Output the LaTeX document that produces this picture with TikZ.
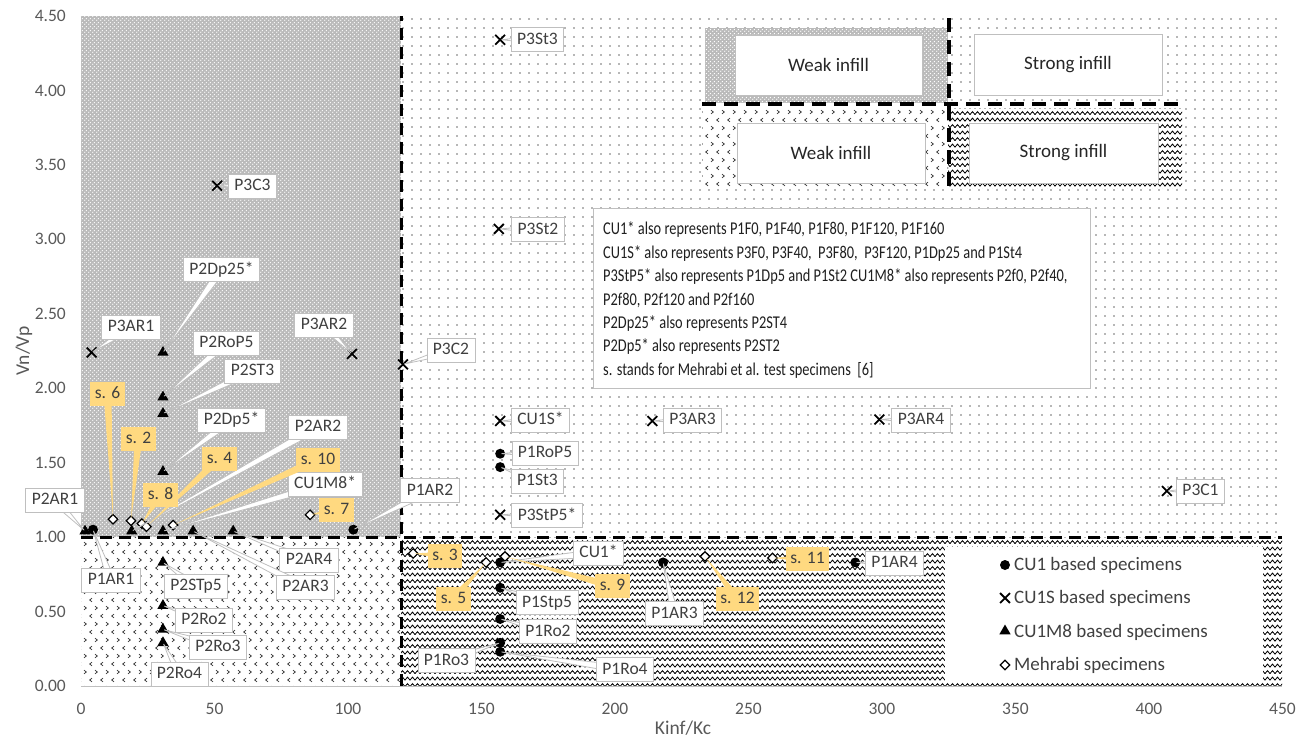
\documentclass[tikz,border=0pt]{standalone}
\usepackage{fontspec}
\setmainfont{Carlito}
\newfontfamily\notefont[FakeStretch=0.8]{Carlito}
\usetikzlibrary{calc,patterns,shapes.geometric,shapes.misc}

\definecolor{axisgray}{RGB}{89,89,89}
\definecolor{textgray}{RGB}{64,64,64}
\definecolor{boxgray}{RGB}{191,191,191}
\definecolor{calloutyellow}{RGB}{255,217,128}
\definecolor{hatchgray}{RGB}{186,186,186}
\definecolor{dotgray}{RGB}{110,110,110}

% fill patterns of the four zones
\pgfdeclarepatternformonly{sparsedots}{\pgfqpoint{0pt}{0pt}}{\pgfqpoint{8.5pt}{8.5pt}}{\pgfqpoint{8.5pt}{8.5pt}}{%
  \pgfpathcircle{\pgfqpoint{4.25pt}{4.25pt}}{0.85pt}\pgfusepath{fill}}
\pgfdeclarepatternformonly{finedots}{\pgfqpoint{0pt}{0pt}}{\pgfqpoint{4pt}{4pt}}{\pgfqpoint{4pt}{4pt}}{%
  \pgfpathcircle{\pgfqpoint{1pt}{1pt}}{0.85pt}\pgfusepath{fill}%
  \pgfpathcircle{\pgfqpoint{3pt}{3pt}}{0.85pt}\pgfusepath{fill}}
\pgfdeclarepatternformonly{chevrons}{\pgfqpoint{-1pt}{-1pt}}{\pgfqpoint{12pt}{17pt}}{\pgfqpoint{11pt}{16pt}}{%
  \pgfsetlinewidth{0.7pt}%
  \pgfpathmoveto{\pgfqpoint{4pt}{13.8pt}}\pgfpathlineto{\pgfqpoint{1.6pt}{12pt}}\pgfpathlineto{\pgfqpoint{4pt}{10.2pt}}%
  \pgfpathmoveto{\pgfqpoint{7pt}{5.8pt}}\pgfpathlineto{\pgfqpoint{9.4pt}{4pt}}\pgfpathlineto{\pgfqpoint{7pt}{2.2pt}}%
  \pgfusepath{stroke}}
\pgfdeclarepatternformonly{waves}{\pgfqpoint{-0.5pt}{0pt}}{\pgfqpoint{5.5pt}{6.5pt}}{\pgfqpoint{5pt}{6.5pt}}{%
  \pgfsetlinewidth{0.8pt}\pgfsetroundcap%
  \pgfpathmoveto{\pgfqpoint{0pt}{1.4pt}}\pgfpathlineto{\pgfqpoint{2.5pt}{4.4pt}}\pgfpathlineto{\pgfqpoint{5pt}{1.4pt}}%
  \pgfusepath{stroke}}

\tikzset{
  lbl/.style={draw=boxgray, line width=0.8pt, fill=white, text=textgray,
    font=\fontsize{17.5}{20}\selectfont, inner xsep=6pt, inner ysep=0pt,
    text height=12.5pt, text depth=3.5pt, minimum height=24pt},
  ylbl/.style={lbl, draw=none, fill=calloutyellow, inner xsep=4.5pt},
  taillbl/.style={fill=white, draw=boxgray, line width=0.8pt, line join=round},
  tailylbl/.style={fill=calloutyellow},
  mcirc/.style={circle, fill=black, inner sep=0pt, minimum size=10pt},
  mcross/.style={cross out, draw=black, line width=1.8pt, inner sep=0pt, minimum size=8pt},
  mtri/.style={regular polygon, regular polygon sides=3, fill=black, inner sep=0pt, minimum size=13pt},
  mdiam/.style={diamond, draw=black, fill=white, line width=1.2pt, inner sep=0pt, minimum size=10pt},
  keybox/.style={draw=boxgray, line width=0.8pt, fill=white, text=black!85,
    font=\fontsize{19}{22}\selectfont, inner sep=0pt},
  keydash/.style={black, line width=3.5pt, dash pattern=on 14pt off 8pt},
  limit/.style={black, line width=3pt, dash pattern=on 12pt off 7pt},
  notebox/.style={draw=boxgray, line width=0.8pt, fill=white, inner sep=0pt},
  notetext/.style={text=black!88, align=left, inner sep=0pt,
    font=\notefont\fontsize{18}{23.4}\selectfont},
  keytext/.style={text=textgray, font=\fontsize{19}{22}\selectfont, inner sep=0pt, anchor=west},
  ticktext/.style={text=axisgray, font=\fontsize{17.5}{20}\selectfont, inner sep=0pt},
  titletext/.style={text=axisgray, font=\fontsize{19.5}{22}\selectfont, inner sep=0pt},
}

% callout box #2 at #3 with a tail to the marker node #4
\newcommand\callout[5][lbl]{%
  \coordinate (c#2) at #3;
  \path[tail#1] ($(#4.center)!1.5pt!(c#2)$) -- ($(c#2)!4pt!90:(#4.center)$)
     -- ($(c#2)!4pt!-90:(#4.center)$) -- cycle;
  \node[#1] (#2) at (c#2) {#5};
}

\begin{document}
\begin{tikzpicture}[x=1pt, y=-1pt]
\useasboundingbox (0,0) rectangle (1309,740);

% zones of the chart
\fill[hatchgray] (81,16) rectangle (401,537);
\fill[pattern=finedots, pattern color=white] (81,16) rectangle (401,537);
\fill[pattern=sparsedots, pattern color=dotgray] (401,16) rectangle (1282,537);
\fill[pattern=chevrons, pattern color=black!80] (81,537) rectangle (401,686);
\fill[pattern=waves, pattern color=black] (401,537) rectangle (1282,686);
\draw[boxgray, line width=1pt] (81,686) -- (1282,686);

% key of the infill zones
\fill[hatchgray] (705,28) rectangle (948,103);
\fill[pattern=finedots, pattern color=white] (705,28) rectangle (948,103);
\fill[white] (702,108) rectangle (1182,188);
\fill[pattern=chevrons, pattern color=black!80] (702,108) rectangle (948,188);
\fill[pattern=waves, pattern color=black] (948,108) rectangle (1182,188);
\node[keybox, minimum width=187pt, minimum height=60pt] (kw1) at (828.5,65) {Weak infill};
\node[keybox, minimum width=188pt, minimum height=61pt] (ks1) at (1068,64.5) {Strong infill};
\node[keybox, minimum width=188pt, minimum height=60pt] (kw2) at (831,153) {Weak infill};
\node[keybox, minimum width=189pt, minimum height=60pt] (ks2) at (1063.5,153) {Strong infill};
\draw[keydash] (702,104) -- (1180,104);
\draw[keydash] (949,18) -- (949,187);

% notes
\node[notebox, minimum width=497pt, minimum height=180pt] (notes) at (841.5,298) {};
\node[notetext, anchor=north west] (notetxt) at (603,222) {%
CU1* also represents P1F0, P1F40, P1F80, P1F120, P1F160\\
CU1S* also represents P3F0, P3F40, \ P3F80, \ P3F120, P1Dp25 and P1St4\\
P3StP5* also represents P1Dp5 and P1St2 CU1M8* also represents P2f0, P2f40,\\
P2f80, P2f120 and P2f160\\
P2Dp25* also represents P2ST4\\
P2Dp5* also represents P2ST2\\
s. stands for Mehrabi et al. test specimens \ [6]};

% limits of the zones
\draw[limit] (401,686) -- (401,16);
\draw[limit] (81,537) -- (1282,537);

% legend of the series
\fill[white] (945,547) rectangle (1263,682);
\node[mcirc] (g1) at (1005,565) {};
\node[keytext] (gt1) at (1014,565) {CU1 based specimens};
\node[mcross] (g2) at (1005,598) {};
\node[keytext] (gt2) at (1014,598) {CU1S based specimens};
\node[mtri] (g3) at (1005,631) {};
\node[keytext] (gt3) at (1014,632) {CU1M8 based specimens};
\node[mdiam] (g4) at (1005,665) {};
\node[keytext] (gt4) at (1014,665) {Mehrabi specimens};

% axes
\foreach \v/\t in {0/0.00,0.5/0.50,1/1.00,1.5/1.50,2/2.00,2.5/2.50,3/3.00,3.5/3.50,4/4.00,4.5/4.50}
  \node[ticktext, anchor=east] (yt\t) at (66,{686-148.9*\v}) {\t};
\foreach \v in {0,50,...,450}
  \node[ticktext] (xt\v) at ({81+2.67*\v},709) {\v};
\node[titletext, rotate=90] (ytitle) at (24,351) {Vn/Vp};
\node[titletext] (xtitle) at (683,728) {Kinf/Kc};

% specimens
\begin{scope}[shift={(81,686)}, x=2.67pt, y=148.9pt]
  % CU1S based
  \node[mcross] (mP3St3) at (157,4.34) {};
  \node[mcross] (mP3St2) at (156.5,3.07) {};
  \node[mcross] (mP3C3) at (51,3.36) {};
  \node[mcross] (mP3AR1) at (4,2.24) {};
  \node[mcross] (mP3AR2) at (101.5,2.23) {};
  \node[mcross] (mP3C2) at (120.6,2.16) {};
  \node[mcross] (mCUS) at (157,1.78) {};
  \node[mcross] (mP3AR3) at (214,1.78) {};
  \node[mcross] (mP3AR4) at (299,1.79) {};
  \node[mcross] (mP3StP) at (157,1.15) {};
  \node[mcross] (mP3C1) at (406.7,1.31) {};
  % CU1M8 based
  \node[mtri] (mP2Dp25) at (30.7,2.24) {};
  \node[mtri] (mP2RoP5) at (30.7,1.94) {};
  \node[mtri] (mP2ST3) at (30.7,1.83) {};
  \node[mtri] (mP2Dp5) at (30.7,1.44) {};
  \node[mtri] (mP2AR1) at (1.5,1.04) {};
  \node[mtri] (mP2AR2) at (19,1.04) {};
  \node[mtri] (mCUM) at (30.7,1.04) {};
  \node[mtri] (mP2AR3) at (42,1.04) {};
  \node[mtri] (mP2AR4) at (57,1.04) {};
  \node[mtri] (mP2STp5) at (30.7,0.83) {};
  \node[mtri] (mP2Ro2) at (30.7,0.54) {};
  \node[mtri] (mP2Ro3) at (30.7,0.38) {};
  \node[mtri] (mP2Ro4) at (30.7,0.29) {};
  % CU1 based
  \node[mcirc] (mP1AR1) at (4.5,1.05) {};
  \node[mcirc] (mP1AR2) at (102,1.05) {};
  \node[mcirc] (mCU) at (157,0.83) {};
  \node[mcirc] (mP1RoP5) at (157,1.56) {};
  \node[mcirc] (mP1St3) at (157,1.47) {};
  \node[mcirc] (mP1Stp5) at (157,0.66) {};
  \node[mcirc] (mP1Ro2) at (157,0.45) {};
  \node[mcirc] (mP1Ro3) at (157,0.29) {};
  \node[mcirc] (mP1Ro4) at (157,0.23) {};
  \node[mcirc] (mP1AR3) at (218,0.83) {};
  \node[mcirc] (mP1AR4) at (290,0.83) {};
  % Mehrabi
  \node[mdiam] (ms6) at (12,1.12) {};
  \node[mdiam] (ms2) at (18.7,1.11) {};
  \node[mdiam] (ms8) at (22.8,1.09) {};
  \node[mdiam] (ms4) at (24.5,1.07) {};
  \node[mdiam] (ms10) at (34.5,1.08) {};
  \node[mdiam] (ms7) at (85.8,1.15) {};
  \node[mdiam] (ms3) at (124.4,0.89) {};
  \node[mdiam] (ms5) at (151.7,0.83) {};
  \node[mdiam] (ms9) at (158.8,0.87) {};
  \node[mdiam] (ms12) at (233.7,0.87) {};
  \node[mdiam] (ms11) at (259,0.86) {};
\end{scope}

% data labels
\callout{lP3St3}{(537.5,39.5)}{mP3St3}{P3St3}
\callout{lP3St2}{(538,229.5)}{mP3St2}{P3St2}
\callout{lP3C3}{(252.5,186)}{mP3C3}{P3C3}
\callout{lP3AR1}{(131,327)}{mP3AR1}{P3AR1}
\callout{lP3AR2}{(324,325)}{mP3AR2}{P3AR2}
\callout{lP3C2}{(451,350)}{mP3C2}{P3C2}
\callout{lCUS}{(540.5,420)}{mCUS}{CU1S*}
\callout{lP3AR3}{(692.5,420)}{mP3AR3}{P3AR3}
\callout{lP3AR4}{(921,420)}{mP3AR4}{P3AR4}
\callout{lP3StP}{(547,515.5)}{mP3StP}{P3StP5*}
\callout{lP3C1}{(1200.5,491)}{mP3C1}{P3C1}
\callout{lP2Dp25}{(221.5,269.5)}{mP2Dp25}{P2Dp25*}
\callout{lP2RoP5}{(226.5,343)}{mP2RoP5}{P2RoP5}
\callout{lP2ST3}{(252.5,371)}{mP2ST3}{P2ST3}
\callout{lP2Dp5}{(231.5,420)}{mP2Dp5}{P2Dp5*}
\callout{lP2AR2}{(318,427)}{mP2AR2}{P2AR2}
\callout{lCUM}{(325,484)}{mCUM}{CU1M8*}
\callout{lP2AR1}{(55,500)}{mP2AR1}{P2AR1}
\callout{lP2AR4}{(309,560)}{mP2AR4}{P2AR4}
\callout{lP2AR3}{(305.5,587)}{mP2AR3}{P2AR3}
\callout{lP2STp5}{(196,586)}{mP2STp5}{P2STp5}
\callout{lP2Ro2}{(204,620)}{mP2Ro2}{P2Ro2}
\callout{lP2Ro3}{(218,647)}{mP2Ro3}{P2Ro3}
\callout{lP2Ro4}{(179.5,674)}{mP2Ro4}{P2Ro4}
\callout{lP1AR1}{(111,580)}{mP1AR1}{P1AR1}
\callout{lP1AR2}{(430,490.5)}{mP1AR2}{P1AR2}
\callout{lP1RoP5}{(545,453)}{mP1RoP5}{P1RoP5}
\callout{lP1St3}{(537.5,481)}{mP1St3}{P1St3}
\callout{lCU}{(598.5,553)}{mCU}{CU1*}
\callout{lP1Stp5}{(547,602.5)}{mP1Stp5}{P1Stp5}
\callout{lP1Ro2}{(548,631.5)}{mP1Ro2}{P1Ro2}
\callout{lP1Ro3}{(446.5,660.5)}{mP1Ro3}{P1Ro3}
\callout{lP1Ro4}{(625,669.5)}{mP1Ro4}{P1Ro4}
\callout{lP1AR3}{(674.5,613.5)}{mP1AR3}{P1AR3}
\callout{lP1AR4}{(894.5,563)}{mP1AR4}{P1AR4}
\callout[ylbl]{ls6}{(107.5,393.5)}{ms6}{s. 6}
\callout[ylbl]{ls2}{(138.5,438.5)}{ms2}{s. 2}
\callout[ylbl]{ls4}{(219.5,458.5)}{ms4}{s. 4}
\callout[ylbl]{ls10}{(318,459.5)}{ms10}{s. 10}
\callout[ylbl]{ls8}{(160.5,495)}{ms8}{s. 8}
\callout[ylbl]{ls7}{(336.5,510)}{ms7}{s. 7}
\callout[ylbl]{ls3}{(445,555.5)}{ms3}{s. 3}
\callout[ylbl]{ls5}{(453.5,598.5)}{ms5}{s. 5}
\callout[ylbl]{ls9}{(612.5,586)}{ms9}{s. 9}
\callout[ylbl]{ls12}{(737.5,599)}{ms12}{s. 12}
\callout[ylbl]{ls11}{(807.5,558.5)}{ms11}{s. 11}
\end{tikzpicture}
\end{document}
